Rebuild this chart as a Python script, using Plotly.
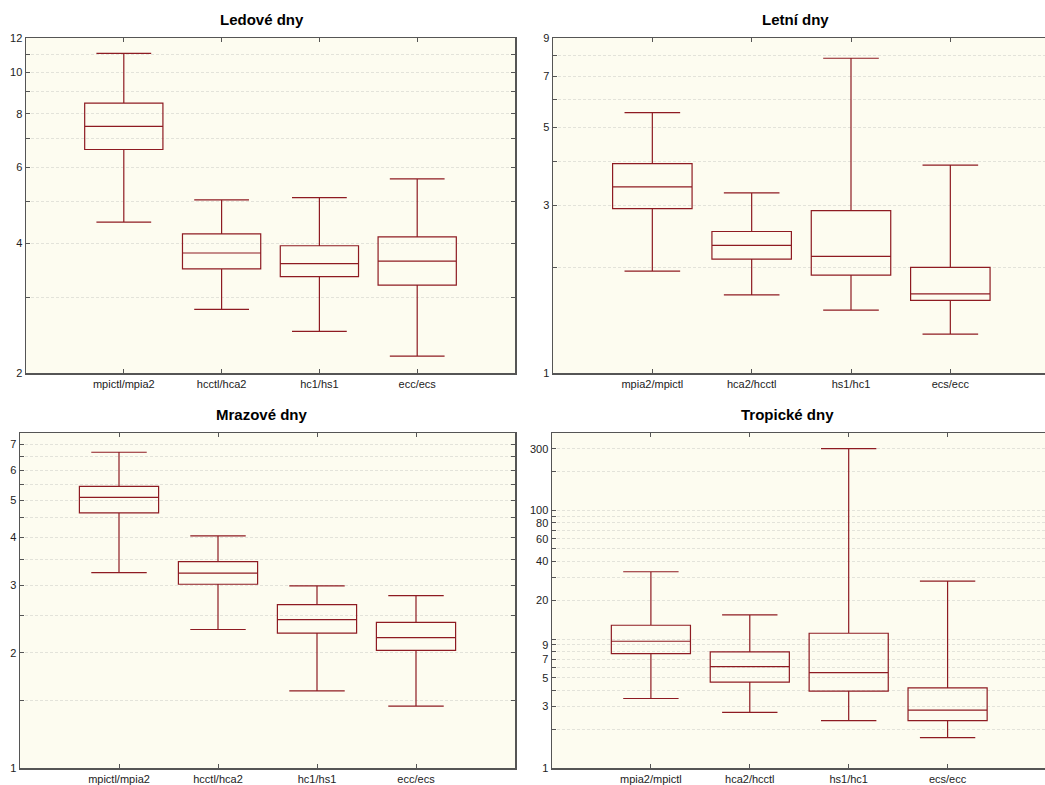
import numpy as np
import plotly.graph_objects as go

# ---------------- data ----------------
titles = ["Ledové dny", "Letní dny", "Mrazové dny", "Tropické dny"]

cats_ledove = ["mpictl/mpia2", "hcctl/hca2", "hc1/hs1", "ecc/ecs"]
ledove_low = [4.48, 2.81, 2.50, 2.19]
ledove_q1 = [6.61, 3.49, 3.35, 3.20]
ledove_med = [7.48, 3.80, 3.59, 3.64]
ledove_q3 = [8.47, 4.21, 3.95, 4.14]
ledove_high = [11.05, 5.05, 5.11, 5.65]

cats_letni = ["mpia2/mpictl", "hca2/hcctl", "hs1/hc1", "ecs/ecc"]
letni_low = [1.95, 1.67, 1.51, 1.29]
letni_q1 = [2.94, 2.11, 1.90, 1.61]
letni_med = [3.39, 2.31, 2.15, 1.68]
letni_q3 = [3.95, 2.53, 2.90, 2.00]
letni_high = [5.52, 3.26, 7.88, 3.91]

cats_mrazove = ["mpictl/mpia2", "hcctl/hca2", "hc1/hs1", "ecc/ecs"]
mrazove_low = [3.24, 2.30, 1.59, 1.45]
mrazove_q1 = [4.64, 3.02, 2.25, 2.03]
mrazove_med = [5.09, 3.23, 2.44, 2.19]
mrazove_q3 = [5.44, 3.46, 2.67, 2.40]
mrazove_high = [6.68, 4.04, 2.99, 2.82]

cats_tropicke = ["mpia2/mpictl", "hca2/hcctl", "hs1/hc1", "ecs/ecc"]
tropicke_low = [3.46, 2.70, 2.33, 1.72]
tropicke_q1 = [7.72, 4.63, 3.95, 2.33]
tropicke_med = [9.62, 6.12, 5.50, 2.81]
tropicke_q3 = [12.8, 7.96, 11.1, 4.19]
tropicke_high = [33.3, 15.4, 300.0, 28.2]

# axis ticks
ledove_ticks = [2, 4, 6, 8, 10, 12]
ledove_minor = [3, 5, 7, 9, 11]
letni_ticks = [1, 3, 5, 7, 9]
letni_minor = [2, 4, 6, 8]
mrazove_ticks = [1, 2, 3, 4, 5, 6, 7]
mrazove_minor = [1.5, 2.5, 3.5, 4.5, 5.5, 6.5]
tropicke_ticks = [1, 3, 5, 7, 9, 20, 40, 60, 80, 100, 300]
tropicke_minor = [2, 4, 6, 8, 10, 30, 50, 70, 90, 200]

# ---------------- style ----------------
W, H = 1045, 785
BOX_COLOR = "#8e1b22"
PLOT_BG = "#fdfcf0"
FRAME = "#555555"
GRID = "#e3e3da"
GRIDDASH = "3px,2px"
FONT = "Liberation Sans, Arial, sans-serif"

panels = [
    dict(title=titles[0], cats=cats_ledove, low=ledove_low, q1=ledove_q1, med=ledove_med,
         q3=ledove_q3, high=ledove_high, ticks=ledove_ticks, minor=ledove_minor,
         yr=(2, 12), xdom=(26 / W, 515 / W), ydom=(1 - 373 / H, 1 - 38 / H),
         xr=(-1, 4), ymirror="ticks", tx=262 / W, ty=1 - 20 / H),
    dict(title=titles[1], cats=cats_letni, low=letni_low, q1=letni_q1, med=letni_med,
         q3=letni_q3, high=letni_high, ticks=letni_ticks, minor=letni_minor,
         yr=(1, 9), xdom=(553 / W, 1.0), ydom=(1 - 373 / H, 1 - 38 / H),
         xr=(-1, 3.953), ymirror=False, tx=795 / W, ty=1 - 20 / H),
    dict(title=titles[2], cats=cats_mrazove, low=mrazove_low, q1=mrazove_q1, med=mrazove_med,
         q3=mrazove_q3, high=mrazove_high, ticks=mrazove_ticks, minor=mrazove_minor,
         yr=(1, 7.5), xdom=(20 / W, 515 / W), ydom=(1 - 768 / H, 1 - 433 / H),
         xr=(-1, 4), ymirror="ticks", tx=262 / W, ty=1 - 414 / H),
    dict(title=titles[3], cats=cats_tropicke, low=tropicke_low, q1=tropicke_q1, med=tropicke_med,
         q3=tropicke_q3, high=tropicke_high, ticks=tropicke_ticks, minor=tropicke_minor,
         yr=(1, 397), xdom=(552 / W, 1.0), ydom=(1 - 768 / H, 1 - 433 / H),
         xr=(-1, 3.985), ymirror=False, tx=787 / W, ty=1 - 414 / H),
]

fig = go.Figure()
layout = dict(
    width=W, height=H, autosize=False,
    margin=dict(l=0, r=0, t=0, b=0, pad=0),
    paper_bgcolor="white",
    plot_bgcolor=PLOT_BG,
    showlegend=False,
    font=dict(family=FONT, size=11, color="#222222"),
    annotations=[],
)

for i, p in enumerate(panels):
    n = "" if i == 0 else str(i + 1)
    xa, ya = "x" + n, "y" + n
    fig.add_trace(go.Box(
        x=p["cats"], q1=p["q1"], median=p["med"], q3=p["q3"],
        lowerfence=p["low"], upperfence=p["high"],
        xaxis=xa, yaxis=ya,
        width=0.8, whiskerwidth=0.7,
        line=dict(color=BOX_COLOR, width=1.2),
        fillcolor="rgba(0,0,0,0)",
        boxpoints=False, hoverinfo="skip",
    ))
    layout["xaxis" + n] = dict(
        domain=list(p["xdom"]), anchor=ya, type="category",
        categoryorder="array", categoryarray=p["cats"],
        range=list(p["xr"]),
        showline=True, linecolor=FRAME, linewidth=1.5, mirror="ticks",
        ticks="inside", ticklen=4, tickcolor=FRAME, tickwidth=1,
        showgrid=False, zeroline=False, automargin=False,
        tickfont=dict(family=FONT, size=11, color="#222222"),
    )
    layout["yaxis" + n] = dict(
        domain=list(p["ydom"]), anchor=xa, type="log",
        range=[np.log10(p["yr"][0]), np.log10(p["yr"][1])],
        tickmode="array", tickvals=p["ticks"], ticktext=[str(t) for t in p["ticks"]],
        showline=True, linecolor=FRAME, linewidth=1.5, mirror=p["ymirror"],
        ticks="inside", ticklen=4, tickcolor=FRAME, tickwidth=1,
        showgrid=True, gridcolor=GRID, griddash=GRIDDASH, gridwidth=1,
        zeroline=False, automargin=False,
        minor=dict(tickmode="array", tickvals=p["minor"], showgrid=True,
                   gridcolor=GRID, griddash=GRIDDASH, gridwidth=1,
                   ticks="inside", ticklen=4, tickcolor=FRAME),
        tickfont=dict(family=FONT, size=11, color="#222222"),
    )
    layout["annotations"].append(dict(
        text="<b>" + p["title"] + "</b>", x=p["tx"], y=p["ty"],
        xref="paper", yref="paper", xanchor="center", yanchor="middle",
        showarrow=False, font=dict(family=FONT, size=15, color="black"),
    ))

fig.update_layout(**layout)
fig.write_html(
    "out.html",
    config={"displayModeBar": False, "staticPlot": True},
    post_script="document.body.style.margin='0';document.body.style.overflow='hidden';",
)
